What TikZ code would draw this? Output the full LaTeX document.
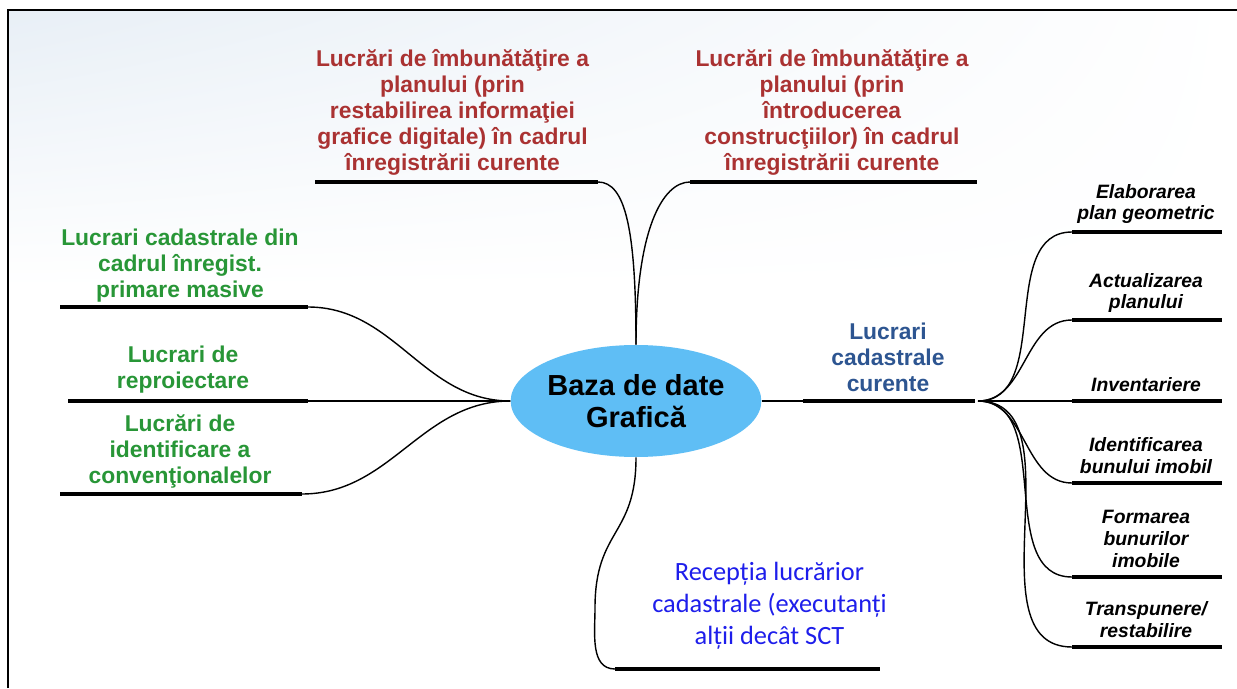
\documentclass[tikz,border=0pt]{standalone}
\usepackage{fontspec}
\setmainfont{Liberation Sans}
\newfontfamily\carlito{Carlito}
\usetikzlibrary{shapes.geometric,shadings}
\definecolor{lucrred}{RGB}{170,50,50}
\definecolor{lucrgreen}{RGB}{40,150,55}
\definecolor{lucrblue}{RGB}{45,85,145}
\definecolor{recblue}{RGB}{30,30,235}
\definecolor{bazablue}{RGB}{95,190,245}
\definecolor{bgtop}{RGB}{232,239,246}
\begin{document}
\begin{tikzpicture}[
  bar/.style={line width=2.6pt},
  link/.style={line width=0.8pt},
  redtxt/.style={text=lucrred,font=\fontsize{13}{14.8}\selectfont\bfseries,align=center},
  greentxt/.style={text=lucrgreen,font=\fontsize{13}{14.8}\selectfont\bfseries,align=center},
  leaftxt/.style={font=\fontsize{11}{12.5}\selectfont\bfseries\itshape,align=center}
]
\useasboundingbox (0,0) rectangle (24.74,13.76);
%\draw[step=1cm,gray,very thin] (0,0) grid (24,13);
\fill[white] (0,0) rectangle (24.74,13.76);
\shade[upper left=bgtop,upper right=white,lower left=white,lower right=white] (0.16,8) rectangle (24.74,13.56);
\draw[line width=1.7pt] (0.16,0) -- (0.16,13.56) -- (24.74,13.56);

% centre
\node[ellipse,fill=bazablue,minimum width=5cm,minimum height=2.24cm,inner sep=0pt,
  align=center,font=\fontsize{16.5}{18}\selectfont\bfseries] (baza) at (12.72,5.74)
  {Baza de date\\Grafică};

% top
\coordinate (implA) at (6.30,10.12);
\coordinate (implB) at (11.96,10.12);
\coordinate (imprA) at (13.80,10.12);
\coordinate (imprB) at (19.54,10.12);
\draw[bar] (implA) -- (implB);
\draw[bar] (imprA) -- (imprB);
\node[redtxt] (impl) at (9.05,11.52) {Lucrări de îmbunătăţire a\\planului (prin\\restabilirea informaţiei\\grafice digitale) în cadrul\\înregistrării curente};
\node[redtxt] (impr) at (16.64,11.52) {Lucrări de îmbunătăţire a\\planului (prin\\întroducerea\\construcţiilor) în cadrul\\înregistrării curente};
\draw[link] (baza.north) .. controls +(0,2.3) and +(0.55,0) .. (implB);
\draw[link] (baza.north) .. controls +(0,2.3) and +(-0.55,0) .. (imprA);

% left
\coordinate (masA) at (1.20,7.62);
\coordinate (masB) at (6.16,7.62);
\coordinate (repA) at (1.36,5.74);
\coordinate (repB) at (6.16,5.74);
\coordinate (convA) at (1.20,3.88);
\coordinate (convB) at (6.04,3.88);
\draw[bar] (masA) -- (masB);
\draw[bar] (repA) -- (repB);
\draw[bar] (convA) -- (convB);
\node[greentxt] (masive) at (3.60,8.44) {Lucrari cadastrale din\\cadrul înregist.\\primare masive};
\node[greentxt] (reproiect) at (3.66,6.36) {Lucrari de\\reproiectare};
\node[greentxt] (conv) at (3.60,4.74) {Lucrări de\\identificare a\\convenţionalelor};
\draw[link] (baza.west) to[out=180,in=0] (masB);
\draw[link] (baza.west) -- (repB);
\draw[link] (baza.west) to[out=180,in=0] (convB);

% right
\coordinate (curA) at (16.06,5.74);
\coordinate (curB) at (19.50,5.74);
\coordinate (hubR) at (19.56,5.74);
\draw[link] (baza.east) -- (curA);
\draw[bar] (curA) -- (curB);
\node[text=lucrblue,font=\fontsize{13}{14.8}\selectfont\bfseries,align=center] (curente) at (17.76,6.62) {Lucrari\\cadastrale\\curente};

\coordinate (elabA) at (21.44,9.12);
\coordinate (actA) at (21.44,7.36);
\coordinate (invA) at (21.44,5.74);
\coordinate (idA) at (21.44,4.10);
\coordinate (formA) at (21.44,2.22);
\coordinate (trA) at (21.44,0.82);
\draw[bar] (elabA) -- ++(3,0);
\draw[bar] (actA) -- ++(3,0);
\draw[bar] (invA) -- ++(3,0);
\draw[bar] (idA) -- ++(3,0);
\draw[bar] (formA) -- ++(3,0);
\draw[bar] (trA) -- ++(3,0);
\node[leaftxt] (elab) at (22.92,9.68) {Elaborarea\\plan geometric};
\node[leaftxt] (actual) at (22.92,7.90) {Actualizarea\\planului};
\node[leaftxt] (invent) at (22.92,6.06) {Inventariere};
\node[leaftxt] (ident) at (22.92,4.64) {Identificarea\\bunului imobil};
\node[leaftxt] (formare) at (22.92,2.98) {Formarea\\bunurilor\\imobile};
\node[leaftxt] (transp) at (22.92,1.36) {Transpunere/\\restabilire};
\draw[link] (hubR) to[out=0,in=180] (elabA);
\draw[link] (hubR) to[out=0,in=180] (actA);
\draw[link] (hubR) -- (invA);
\draw[link] (hubR) to[out=0,in=180] (idA);
\draw[link] (hubR) to[out=0,in=180] (formA);
\draw[link] (hubR) to[out=0,in=180] (trA);

% bottom
\coordinate (recA) at (12.30,0.38);
\coordinate (recB) at (17.60,0.38);
\coordinate (bend) at (11.90,1.60);
\draw[bar] (recA) -- (recB);
\node[text=recblue,font=\carlito\fontsize{15}{18.2}\selectfont,align=center] (receptie) at (15.39,1.64) {Recepția lucrărior\\cadastrale (executanți\\alții decât SCT};
\draw[link] (baza.south) to[out=-90,in=90,looseness=1.3] (bend) to[out=-90,in=180] (recA);
\end{tikzpicture}
\end{document}
